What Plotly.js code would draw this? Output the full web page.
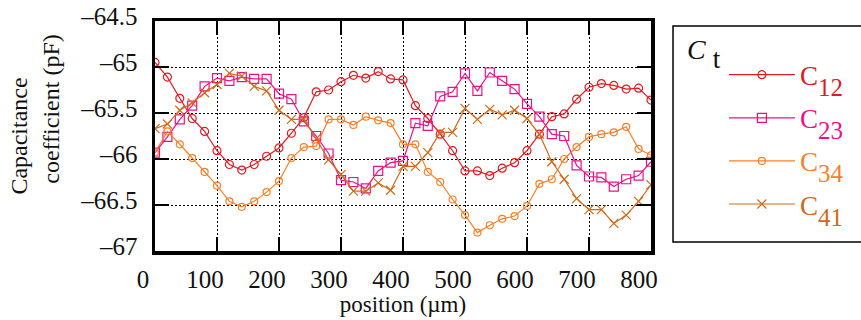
<!DOCTYPE html>
<html>
<head>
<meta charset="utf-8">
<script src="https://cdn.plot.ly/plotly-3.0.1.min.js"></script>
<style>html,body{margin:0;padding:0;background:#fff;}#chart{width:861px;height:320px;}</style>
</head>
<body>
<div id="chart"></div>
<script>
// position (µm)
const positions = [0,20,40,60,80,100,120,140,160,180,200,220,240,260,280,300,320,340,360,380,400,420,440,460,480,500,520,540,560,580,600,620,640,660,680,700,720,740,760,780,800];

// Capacitance coefficients (pF)
const c12 = [-64.95,-65.11,-65.34,-65.56,-65.70,-65.91,-66.06,-66.12,-66.06,-65.97,-65.88,-65.72,-65.55,-65.27,-65.25,-65.16,-65.09,-65.12,-65.05,-65.13,-65.14,-65.42,-65.56,-65.73,-65.91,-66.13,-66.13,-66.18,-66.10,-66.04,-65.91,-65.73,-65.54,-65.51,-65.35,-65.22,-65.18,-65.20,-65.24,-65.23,-65.36];
const c23 = [-65.93,-65.76,-65.57,-65.42,-65.21,-65.12,-65.15,-65.11,-65.13,-65.13,-65.29,-65.35,-65.59,-65.75,-65.94,-66.23,-66.25,-66.32,-66.13,-66.04,-66.02,-65.61,-65.64,-65.32,-65.27,-65.07,-65.26,-65.06,-65.15,-65.24,-65.40,-65.54,-65.73,-65.75,-66.07,-66.19,-66.20,-66.30,-66.22,-66.18,-66.03];
const c34 = [-65.93,-65.70,-65.84,-65.99,-66.14,-66.29,-66.46,-66.52,-66.46,-66.36,-66.24,-65.99,-65.87,-65.86,-65.57,-65.57,-65.63,-65.54,-65.58,-65.61,-65.84,-65.84,-66.14,-66.25,-66.44,-66.61,-66.80,-66.72,-66.65,-66.62,-66.51,-66.27,-66.22,-66.00,-65.87,-65.76,-65.73,-65.71,-65.65,-65.89,-65.96];
const c41 = [-65.67,-65.62,-65.47,-65.39,-65.28,-65.19,-65.07,-65.10,-65.21,-65.26,-65.47,-65.57,-65.57,-65.78,-66.01,-66.17,-66.35,-66.35,-66.26,-66.34,-66.08,-66.08,-65.93,-65.71,-65.71,-65.45,-65.57,-65.46,-65.52,-65.47,-65.56,-65.73,-66.03,-66.22,-66.43,-66.55,-66.55,-66.70,-66.61,-66.46,-66.28];

const yTicks = [-67,-66.5,-66,-65.5,-65,-64.5];
const xTicks = [0,100,200,300,400,500,600,700,800];

const seriesSubs = ['12','23','34','41'];
const seriesColors = ['#e01a22','#ec1088','#f7802a','#cf6a1c'];
const seriesSymbols = ['circle-open','square-open','circle-open','x-thin-open'];
const seriesSizes = [8,9,7,9];
const seriesData = [c12,c23,c34,c41];

const FONT = 'Liberation Serif, Times New Roman, serif';
const NB = '\u00a0';

const traces = seriesData.map((ys,i)=>({
  x: positions,
  y: ys,
  type: 'scatter',
  mode: 'lines+markers',
  name: '<span style="color:'+seriesColors[i]+'">C<span style="font-size:25px;baseline-shift:-11px">'+seriesSubs[i]+'</span></span>',
  legendgroup: 'g'+i,
  line: {color: seriesColors[i], width: 1.2},
  marker: {symbol: seriesSymbols[i], size: seriesSizes[i], color: seriesColors[i], line:{width:1.2, color: seriesColors[i]}}
}));

const axisCommon = {
  showline: true, linecolor: '#000', linewidth: 3.5, mirror: 'ticks',
  ticks: 'inside', ticklen: 14, tickwidth: 1.3, tickcolor: '#000',
  showgrid: true, gridcolor: '#000', gridwidth: 1, griddash: '2px,2px',
  zeroline: false,
  tickfont: {family: FONT, size: 25, color: '#111'}
};

const layout = {
  width: 861, height: 320,
  margin: {l: 155, r: 210, t: 21, b: 69},
  paper_bgcolor: '#fff', plot_bgcolor: '#fff',
  showlegend: true,
  xaxis: Object.assign({}, axisCommon, {
    range: [0, 800], tickvals: xTicks, ticktext: xTicks.map(String),
    ticklabelshift: -12, ticklabelstandoff: 3,
    title: {text: 'position (µm)', font: {family: FONT, size: 23, color: '#111'}, standoff: 0}
  }),
  yaxis: Object.assign({}, axisCommon, {
    range: [-67, -64.5], tickvals: yTicks, ticktext: yTicks.map(v=>'–'+String(Math.abs(v))),
    ticklabelshift: -5, ticklabelstandoff: 9,
    title: {text: NB.repeat(9)+'Capacitance<br>'+NB.repeat(9)+'coefficient (pF)', font: {family: FONT, size: 24, color: '#111'}, standoff: 15}
  }),
  legend: {
    x: 1.147, xanchor: 'left', y: 0.871, yanchor: 'top',
    bgcolor: 'rgba(0,0,0,0)', borderwidth: 0,
    itemwidth: 66, tracegroupgap: 5,
    font: {family: FONT, size: 27, color: '#111'}
  },
  shapes: [{
    type: 'rect', xref: 'paper', yref: 'paper',
    x0: 1.0444, x1: 1.45, y0: 0.039, y1: 0.978,
    line: {color: '#000', width: 1.5}, fillcolor: 'rgba(0,0,0,0)'
  }],
  annotations: [{
    text: '<i>C</i>'+NB+'<span style="font-size:27px;baseline-shift:-9px">t</span>', xref: 'paper', yref: 'paper',
    x: (685-155)/496, y: (251-32)/230, xanchor: 'left', yanchor: 'top',
    showarrow: false, font: {family: FONT, size: 28, color: '#111'}
  }]
};

Plotly.newPlot('chart', traces, layout, {displayModeBar: false, staticPlot: true});
</script>
</body>
</html>
